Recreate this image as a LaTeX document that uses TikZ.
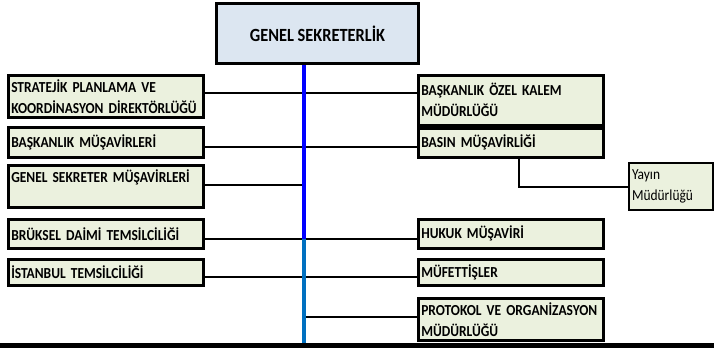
\documentclass[tikz,border=0pt]{standalone}
\usepackage{fontspec}
\setmainfont{Carlito}[FakeStretch=0.88]
\usepackage{xcolor}
\definecolor{paleolive}{RGB}{235,241,222}
\definecolor{paleblue}{RGB}{220,230,241}
\definecolor{spineblue}{RGB}{0,0,255}
\definecolor{excelblue}{RGB}{0,112,192}
\usetikzlibrary{calc,backgrounds}

\begin{document}
\begin{tikzpicture}[x=1pt,y=-1pt,
    unit/.style={draw,line width=2.5pt,fill=paleolive,anchor=north west,
        inner xsep=3pt,inner ysep=0pt,align=left,
        font=\bfseries\fontsize{15.3}{21}\selectfont},
    leftunit/.style={unit,text width=189pt,minimum height=#1},
    rightunit/.style={unit,text width=179pt,minimum height=#1},
    link/.style={line width=2pt}]
    \useasboundingbox (0,0) rectangle (714,348);

    % top office
    \node[draw,line width=3pt,fill=paleblue,anchor=north west,minimum width=202pt,
        minimum height=60pt,font=\bfseries\fontsize{18.6}{21}\selectfont] (gs) at (215,2) {GENEL SEKRETERLİK};

    % left column
    \node[leftunit=42pt] (l1) at (7,74) {STRATEJİK PLANLAMA VE\\KOORDİNASYON DİREKTÖRLÜĞÜ};
    \node[leftunit=30pt] (l2) at (7,126) {BAŞKANLIK MÜŞAVİRLERİ};
    \node[leftunit=42pt] (l3) at (7,164) {GENEL SEKRETER MÜŞAVİRLERİ\\\mbox{}};
    \node[leftunit=29pt] (l4) at (7,218) {BRÜKSEL DAİMİ TEMSİLCİLİĞİ};
    \node[leftunit=26pt] (l5) at (7,258) {İSTANBUL TEMSİLCİLİĞİ};

    % right column
    \node[rightunit=50pt] (r1) at (417,74) {BAŞKANLIK ÖZEL KALEM\\MÜDÜRLÜĞÜ};
    \node[rightunit=29pt] (r2) at (417,127) {BASIN MÜŞAVİRLİĞİ};
    \node[rightunit=29pt] (r3) at (417,218) {HUKUK MÜŞAVİRİ};
    \node[rightunit=26pt] (r4) at (417,258) {MÜFETTİŞLER};
    \node[rightunit=42pt] (r5) at (417,297) {PROTOKOL VE ORGANİZASYON\\MÜDÜRLÜĞÜ};
    \node[unit,line width=2pt,text width=78pt,minimum height=47pt,font=\fontsize{15.3}{21}\selectfont] (yay) at (628,162) {Yayın\\Müdürlüğü};

    % spine
    \coordinate (s1) at (304,93);
    \coordinate (s2) at (304,147);
    \coordinate (s3) at (304,185);
    \coordinate (s4) at (304,239);
    \coordinate (s5) at (304,277);
    \coordinate (s6) at (304,317);
    \coordinate (foot) at (304,348);

    \begin{scope}[on background layer]
        \draw[link] (l1.east |- s1) -- (r1.west |- s1);
        \draw[link] (l2.east |- s2) -- (r2.west |- s2);
        \draw[link] (l3.east |- s3) -- (s3);
        \draw[link] (l4.east |- s4) -- (r3.west |- s4);
        \draw[link] (l5.east |- s5) -- (r4.west |- s5);
        \draw[link] (s6) -- (r5.west |- s6);
        \draw[link] ([xshift=8pt]r2.south) |- (yay.west);
        \draw[line width=4pt,spineblue] (gs.south -| s4) -- (s4);
        \draw[line width=4pt,excelblue] (s4) -- (foot);
    \end{scope}

    \draw[line width=5pt] (0,345.5) -- (714,345.5);
\end{tikzpicture}
\end{document}
